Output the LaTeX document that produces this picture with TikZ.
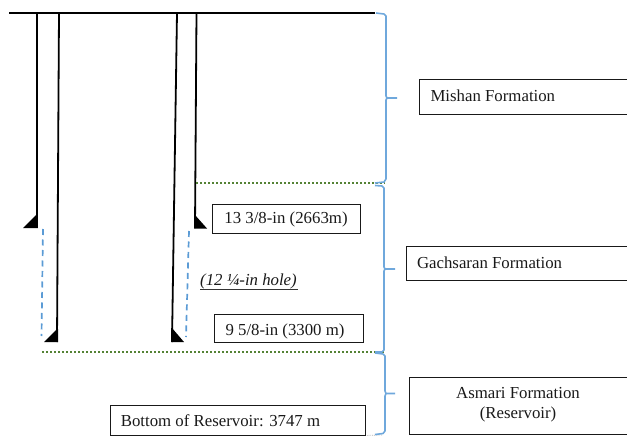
\documentclass[tikz,border=0pt]{standalone}
\usepackage{fontspec}
\setmainfont{Liberation Serif}
\definecolor{bracecol}{HTML}{6FA8DC}
\definecolor{dashcol}{HTML}{5B9BD5}
\definecolor{dotcol}{HTML}{548235}
\tikzset{
  every node/.style={font=\fontsize{16.8}{19.6}\selectfont,text=black!90},
  pipe/.style={draw=black,line width=1.8pt},
  shoe/.style={fill=black,draw=none},
  openhole/.style={draw=dashcol,line width=1.7pt,dash pattern=on 6pt off 4.5pt},
  boundary/.style={draw=dotcol,line width=1.7pt,dash pattern=on 2pt off 2pt},
  bracket/.style={draw=bracecol,line width=1.6pt,line join=round},
  labelbox/.style={draw=black!90,line width=1pt,inner sep=0pt,anchor=north west},
}
\begin{document}
\begin{tikzpicture}[x=1pt,y=-1pt]
\useasboundingbox (0,0) rectangle (627,436);
\clip (0,0) rectangle (627,436);
% ground
\coordinate (g0) at (9,13); \coordinate (g1) at (375,13);
\draw[pipe] (g0) -- (g1);
% casings
\draw[pipe] (37,13) -- (37,228);
\draw[pipe] (59,13) -- (57,342);
\draw[pipe] (177,13) -- (172,342);
\draw[pipe] (196.5,13) -- (195,228);
\fill[shoe] (23,228) -- (37,214) -- (37.8,214) -- (37.8,228) -- cycle;
\fill[shoe] (44,342) -- (57,329) -- (58,329) -- (58,342) -- cycle;
\fill[shoe] (171,342) -- (171,328) -- (172,328) -- (184,342) -- cycle;
\fill[shoe] (194,228.5) -- (194,215) -- (195,215) -- (207,228.5) -- cycle;
% open hole
\draw[openhole] (43,229) -- (41.5,336);
\draw[openhole] (189,231) -- (186,337);
% boundaries
\draw[boundary] (196,183) -- (385,183);
\draw[boundary] (42,352) -- (385,352);
\draw[black!30,densely dotted,line width=0.8pt] (365,435.5) -- (382,435);
% braces
\draw[bracket] (376,13) -- (384,14) -- (386,16) -- (386,96) -- (387,98) -- (397,98)
  (387,98) -- (386,100) -- (386,179) -- (384,182) -- (375,183);
\draw[bracket] (375,185.5) -- (382,186) -- (384,188) -- (384,267) -- (385,269) -- (395,269)
  (385,269) -- (384,271) -- (384,350) -- (382,352) -- (375,352);
\draw[bracket] (375,353) -- (383,354) -- (385,356) -- (385,391) -- (386,393.5) -- (395,393.5)
  (386,393.5) -- (385,396) -- (385,431) -- (383,433.5) -- (375,434.5);
% boxes
\node[labelbox,minimum width=230pt,minimum height=34pt] (mishan) at (419,79.5) {};
\node[anchor=west] (mishant) at (427,95.5) {Mishan Formation};
\node[labelbox,minimum width=240pt,minimum height=34pt] (gach) at (406,246) {};
\node[anchor=west] (gacht) at (413.5,262.5) {Gachsaran Formation};
\node[labelbox,minimum width=240pt,minimum height=57pt] (asm) at (408.5,377) {};
\node[align=center,anchor=center] (asmt) at (518,404.5) {Asmari Formation\\(Reservoir)};
\node[labelbox,minimum width=148pt,minimum height=29pt] (b13) at (212,204) {};
\node[anchor=center] (b13t) at (286,219) {13 3/8-in (2663m)};
\node[labelbox,minimum width=149.5pt,minimum height=28pt] (b9) at (213.5,314) {};
\node[anchor=center] (b9t) at (285,331.5) {9 5/8-in (3300 m)};
\node[labelbox,minimum width=255pt,minimum height=30pt] (bot) at (110,405) {};
\node[anchor=center] (bott) at (220.5,421) {Bottom of Reservoir: 3747 m};
\node[anchor=center,inner sep=0pt] (hole) at (248.5,281.5) {\textit{(12 ¼-in hole)}};
\draw[black!80,line width=0.7pt] (200,289.5) -- (297.5,289.5);
\end{tikzpicture}
\end{document}
